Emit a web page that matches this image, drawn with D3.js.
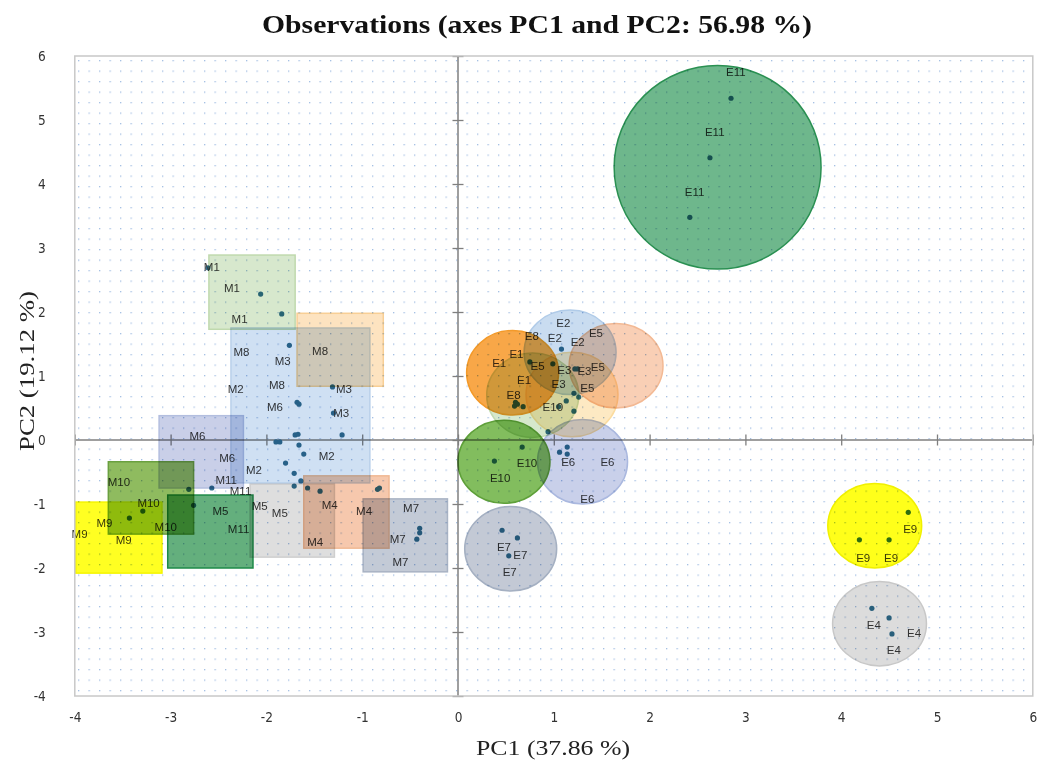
<!DOCTYPE html>
<html>
<head>
<meta charset="utf-8">
<script src="https://cdn.jsdelivr.net/npm/d3@7"></script>
<style>
  body { margin: 0; background: #fff; }
  svg { display: block; }
</style>
</head>
<body>
<div id="chart"></div>
<script>
// observations (PC1, PC2)
const obsX = [2.85, 2.63, 2.42, 4.70, 4.19, 4.50, 4.32, 4.50, 4.53, 0.46, 0.62, 0.53,
  0.67, 0.38, 0.94, 1.14, 1.06, 1.14, 1.08, 0.60, 0.62, 0.68, 0.59, 0.75, 0.99,
  1.25, 1.22, 1.13, 1.21, 1.26, 1.21, 1.05,
  -2.61, -2.06, -1.84, -1.76, -1.31, -1.68, -1.66, -1.30, -1.21, -1.70, -1.67, -1.90,
  -1.86, -1.66, -1.61, -1.80, -1.71, -1.64, -1.71, -1.57, -1.44, -0.84, -0.82, -0.40,
  -0.40, -0.43, -2.57, -2.81, -2.76, -3.29, -3.43];
const obsY = [5.34, 4.41, 3.48, -1.13, -1.56, -1.56, -2.63, -2.78, -3.03, -1.41, -1.53, -1.81,
  -0.11, -0.33, 0.13, -0.11, -0.19, -0.22, 1.42, 0.59, 0.56, 0.52, 0.53, 1.22, 1.19,
  1.11, 1.11, 0.61, 0.45, 0.67, 0.73, 0.52,
  2.69, 2.28, 1.97, 1.48, 0.83, 0.59, 0.56, 0.42, 0.08, 0.08, 0.09, -0.03,
  -0.03, -0.08, -0.22, -0.36, -0.52, -0.64, -0.72, -0.75, -0.80, -0.77, -0.75, -1.38,
  -1.45, -1.55, -0.75, -0.77, -1.02, -1.11, -1.22];

// observation labels
const labelText = ["E11", "E11", "E11", "E9", "E9", "E9", "E4", "E4", "E4", "E7", "E7", "E7",
  "E10", "E10", "E10", "E6", "E6", "E6", "E2", "E2", "E2", "E8", "E8", "E1", "E1", "E1",
  "E5", "E5", "E5", "E5", "E3", "E3", "E3",
  "M1", "M1", "M1", "M8", "M3", "M8", "M2", "M8", "M3", "M6", "M3", "M6", "M6", "M2", "M2",
  "M11", "M11", "M11", "M10", "M10", "M10", "M9", "M9", "M9", "M5", "M5", "M5",
  "M4", "M4", "M4", "M7", "M7", "M7"];
const labelX = [2.90, 2.68, 2.47, 4.72, 4.23, 4.52, 4.34, 4.76, 4.55, 0.48, 0.65, 0.54,
  0.72, 0.44, 0.99, 1.15, 1.56, 1.35, 1.10, 1.01, 1.25, 0.77, 0.58, 0.61, 0.43, 0.69,
  1.44, 1.46, 1.35, 0.83, 1.11, 1.32, 1.05,
  -2.57, -2.36, -2.28, -2.26, -1.83, -1.44, -2.32, -1.89, -1.19, -1.91, -1.22, -2.72, -2.41, -2.13, -1.37,
  -2.42, -2.27, -2.29, -3.54, -3.23, -3.05, -3.69, -3.95, -3.49, -2.48, -2.07, -1.86,
  -1.34, -0.98, -1.49, -0.49, -0.63, -0.60];
const labelY = [5.75, 4.81, 3.88, -1.39, -1.84, -1.84, -2.89, -3.02, -3.28, -1.67, -1.80, -2.06,
  -0.36, -0.59, 0.52, -0.34, -0.34, -0.92, 1.83, 1.59, 1.53, 1.63, 0.70, 1.34, 1.20, 0.94,
  1.67, 1.14, 0.81, 1.16, 1.10, 1.08, 0.88,
  2.70, 2.38, 1.89, 1.38, 1.23, 1.39, 0.80, 0.86, 0.80, 0.52, 0.42, 0.06, -0.28, -0.47, -0.25,
  -0.62, -0.80, -1.39, -0.66, -0.98, -1.36, -1.30, -1.47, -1.56, -1.11, -1.03, -1.14,
  -1.02, -1.11, -1.59, -1.06, -1.55, -1.91];

// E groups: ellipses (centre, half axes, in PC units)
const ellGroups = ["E8", "E2", "E1", "E3", "E5", "E10", "E6", "E7", "E9", "E4", "E11"];
const ellCx = [0.78, 1.17, 0.57, 1.19, 1.65, 0.48, 1.30, 0.55, 4.35, 4.40, 2.71];
const ellCy = [0.70, 1.37, 1.05, 0.71, 1.16, -0.34, -0.34, -1.70, -1.34, -2.87, 4.26];
const ellRx = [0.48, 0.48, 0.48, 0.48, 0.49, 0.48, 0.47, 0.48, 0.49, 0.49, 1.08];
const ellRy = [0.66, 0.66, 0.66, 0.66, 0.66, 0.65, 0.66, 0.66, 0.66, 0.66, 1.59];

// M groups: rectangles (x from/to, y from/to, in PC units)
const rectGroups = ["M1", "M3", "M8", "M6", "M9", "M10", "M11", "M5", "M4", "M7"];
const rectX0 = [-2.60, -2.37, -1.68, -3.12, -3.99, -3.65, -3.03, -2.17, -1.61, -0.99];
const rectX1 = [-1.70, -0.92, -0.78, -2.24, -3.09, -2.76, -2.14, -1.29, -0.72, -0.11];
const rectY0 = [2.89, 1.75, 1.98, 0.38, -0.97, -0.34, -0.86, -0.69, -0.56, -0.92];
const rectY1 = [1.73, -0.67, 0.84, -0.75, -2.08, -1.47, -2.00, -1.83, -1.69, -2.06];

const ticks = [-4, -3, -2, -1, 0, 1, 2, 3, 4, 5, 6];

// fill / outline per group (multiplied over what lies below)
const groupStyle = {
  E1: ["#f8a748", "#f39a2a"], E2: ["#c9dcf0", "#b0cbe8"], E3: ["#fde9c3", "#fbdca0"],
  E4: ["#dcdcdc", "#c8c8c8"], E5: ["#f9cfb5", "#f3b994"], E6: ["#c9d0ea", "#aab8df"],
  E7: ["#c3c9d5", "#a5b0c2"], E8: ["#d6e8cc", "#c2dbb2"], E9: ["#ffff1a", "#f0f000"],
  E10: ["#82bd5e", "#5fa03a"], E11: ["#6eb78c", "#2a9052"],
  M1: ["#d7e8cd", "#c0d9ae"], M3: ["#cfe0f3", "#b9d0ea"], M8: ["#fde3c0", "#f8cf95"],
  M6: ["#c9cfe8", "#b3bedf"], M9: ["#ffff22", "#f5f500"], M10: ["#8fbb5f", "#6aa040"],
  M11: ["#64af7d", "#1e8a48"], M5: ["#dedede", "#cfcfcf"], M4: ["#f6c8ad", "#f0b894"],
  M7: ["#c3cad6", "#a9b3c4"]
};

const W = 1037, H = 763;
const x = d3.scaleLinear().domain([-4, 6]).range([74.8, 1032.8]);
const y = d3.scaleLinear().domain([-4, 6]).range([696, 56]);

const svg = d3.select("#chart").append("svg")
  .attr("width", W).attr("height", H);

const defs = svg.append("defs");
defs.append("pattern")
  .attr("id", "dots")
  .attr("patternUnits", "userSpaceOnUse")
  .attr("x", 78).attr("y", 60)
  .attr("width", 10.5).attr("height", 10.5)
  .append("rect")
  .attr("width", 1.3).attr("height", 1.3)
  .attr("fill", "#a3bfe3");

svg.append("rect").attr("width", W).attr("height", H).attr("fill", "#fff");

// plot background
svg.append("rect")
  .attr("x", x(-4)).attr("y", y(6))
  .attr("width", x(6) - x(-4)).attr("height", y(-4) - y(6))
  .attr("fill", "url(#dots)");

// zero lines with crossing ticks
const zero = svg.append("g");
zero.append("line")
  .attr("x1", x(-4)).attr("x2", x(6)).attr("y1", y(0)).attr("y2", y(0))
  .attr("stroke", "#7f7f7f").attr("stroke-width", 1.5);
zero.append("line")
  .attr("x1", x(0)).attr("x2", x(0)).attr("y1", y(-4)).attr("y2", y(6))
  .attr("stroke", "#7f7f7f").attr("stroke-width", 1.5);

const xTicksCall = d3.axisBottom(x).tickValues(ticks).tickSizeInner(11).tickSizeOuter(0).tickFormat("");
const yTicksCall = d3.axisRight(y).tickValues(ticks).tickSizeInner(11).tickSizeOuter(0).tickFormat("");
zero.append("g")
  .attr("transform", "translate(0," + (y(0) - 5.5) + ")")
  .call(xTicksCall)
  .call(g => g.select(".domain").remove())
  .call(g => g.selectAll("line").attr("stroke", "#7f7f7f").attr("stroke-width", 1.3));
zero.append("g")
  .attr("transform", "translate(" + (x(0) - 5.5) + ",0)")
  .call(yTicksCall)
  .call(g => g.select(".domain").remove())
  .call(g => g.selectAll("line").attr("stroke", "#7f7f7f").attr("stroke-width", 1.3));

// observations and labels (the group shapes lie over them)
svg.append("g").selectAll("circle")
  .data(d3.range(obsX.length))
  .join("circle")
  .attr("cx", i => x(obsX[i]))
  .attr("cy", i => y(obsY[i]))
  .attr("r", 2.6)
  .attr("fill", "#2f6e8f");

svg.append("g").selectAll("text")
  .data(d3.range(labelText.length))
  .join("text")
  .attr("x", i => x(labelX[i]))
  .attr("y", i => y(labelY[i]))
  .attr("text-anchor", "middle")
  .attr("dominant-baseline", "central")
  .attr("font-family", "Liberation Sans, Arial, sans-serif")
  .attr("font-size", 11.5)
  .attr("fill", "#3a3a3a")
  .text(i => labelText[i]);

// group regions, multiplied so labels and dots stay visible through them
svg.selectAll("rect.grp")
  .data(d3.range(rectGroups.length))
  .join("rect")
  .attr("class", "grp")
  .attr("x", i => x(rectX0[i]))
  .attr("y", i => y(rectY0[i]))
  .attr("width", i => x(rectX1[i]) - x(rectX0[i]))
  .attr("height", i => y(rectY1[i]) - y(rectY0[i]))
  .attr("fill", i => groupStyle[rectGroups[i]][0])
  .attr("stroke", i => groupStyle[rectGroups[i]][1])
  .attr("stroke-width", 1.5)
  .style("mix-blend-mode", "multiply");

svg.selectAll("ellipse.grp")
  .data(d3.range(ellGroups.length))
  .join("ellipse")
  .attr("class", "grp")
  .attr("cx", i => x(ellCx[i]))
  .attr("cy", i => y(ellCy[i]))
  .attr("rx", i => x(ellRx[i]) - x(0))
  .attr("ry", i => y(0) - y(ellRy[i]))
  .attr("fill", i => groupStyle[ellGroups[i]][0])
  .attr("stroke", i => groupStyle[ellGroups[i]][1])
  .attr("stroke-width", 1.5)
  .style("mix-blend-mode", "multiply");

// frame
svg.append("rect")
  .attr("x", x(-4)).attr("y", y(6))
  .attr("width", x(6) - x(-4)).attr("height", y(-4) - y(6))
  .attr("fill", "none").attr("stroke", "#c8c8c8").attr("stroke-width", 1.5);

// tick labels on the outer edges
const tickFont = "Liberation Sans Narrow, DejaVu Sans Condensed, Arial Narrow, sans-serif";
const fmt = d => String(d);
svg.append("g")
  .attr("transform", "translate(0," + y(-4) + ")")
  .call(d3.axisBottom(x).tickValues(ticks).tickSize(0).tickPadding(16).tickFormat(fmt))
  .call(g => g.select(".domain").remove())
  .call(g => g.selectAll("text").attr("font-family", tickFont).attr("font-size", 13.5).attr("fill", "#333"));
svg.append("g")
  .attr("transform", "translate(" + x(-4) + ",0)")
  .call(d3.axisLeft(y).tickValues(ticks).tickSize(0).tickPadding(29).tickFormat(fmt))
  .call(g => g.select(".domain").remove())
  .call(g => g.selectAll("text").attr("font-family", tickFont).attr("font-size", 13.5).attr("fill", "#333"));

// titles
const serif = "Liberation Serif, DejaVu Serif, serif";
svg.append("text")
  .attr("x", 537).attr("y", 33)
  .attr("text-anchor", "middle")
  .attr("font-family", serif).attr("font-weight", "bold").attr("font-size", 25)
  .attr("textLength", 550).attr("lengthAdjust", "spacingAndGlyphs")
  .attr("fill", "#111")
  .text("Observations (axes PC1 and PC2: 56.98 %)");

svg.append("text")
  .attr("x", 553).attr("y", 755)
  .attr("text-anchor", "middle")
  .attr("font-family", serif).attr("font-size", 22)
  .attr("textLength", 154).attr("lengthAdjust", "spacingAndGlyphs")
  .attr("fill", "#222")
  .text("PC1 (37.86 %)");

svg.append("text")
  .attr("transform", "translate(34,371) rotate(-90)")
  .attr("text-anchor", "middle")
  .attr("font-family", serif).attr("font-size", 22)
  .attr("textLength", 160).attr("lengthAdjust", "spacingAndGlyphs")
  .attr("fill", "#222")
  .text("PC2 (19.12 %)");
</script>
</body>
</html>
